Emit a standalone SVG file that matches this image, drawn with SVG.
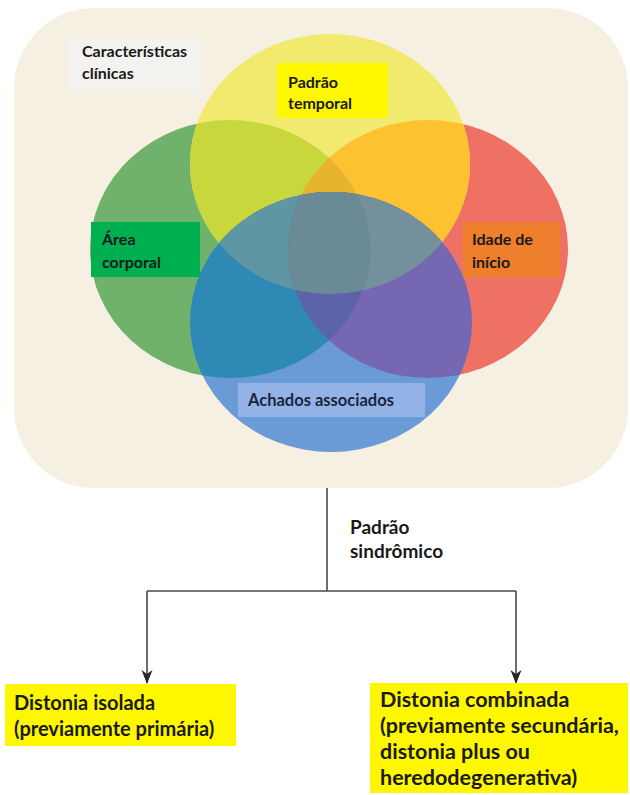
<svg xmlns="http://www.w3.org/2000/svg" width="630" height="795" viewBox="0 0 630 795">
<style>
.t{font-family:Lato,"Liberation Sans",sans-serif;font-weight:700;fill:#1a1a1a}
.s16{font-size:16px}
.s20{font-size:20px}
.s21{font-size:21.5px}
.ln{fill:none;stroke:#4a4a4a;stroke-width:1.6}
</style>
<defs>
<clipPath id="cY"><ellipse cx="330" cy="164" rx="140" ry="130"/></clipPath>
<clipPath id="cG"><ellipse cx="230" cy="249" rx="140" ry="129"/></clipPath>
<clipPath id="cR"><ellipse cx="428" cy="249" rx="140" ry="129"/></clipPath>
<clipPath id="cB"><ellipse cx="331" cy="322" rx="141" ry="130"/></clipPath>
<marker id="arr" viewBox="0 0 14 12" refX="13" refY="6" markerWidth="14" markerHeight="12" markerUnits="userSpaceOnUse" orient="auto">
<path d="M0,0.5 L14,6 L0,11.5 L4,6 z" fill="#262626"/>
</marker>
</defs>
<rect width="630" height="795" fill="#ffffff"/>
<g id="panel">
<rect x="14" y="8" width="614" height="480" rx="80" ry="80" fill="#f5f0e2"/>
</g>
<g id="clinicas">
<rect x="68" y="40" width="132" height="52" fill="#f3f2ee"/>
<text class="t s16" x="82" y="57">Características</text>
<text class="t s16" x="82" y="79">clínicas</text>
</g>
<g id="venn">
<ellipse cx="230" cy="249" rx="140" ry="129" fill="#70b16b"/>
<ellipse cx="428" cy="249" rx="140" ry="129" fill="#ef7163"/>
<ellipse cx="330" cy="164" rx="140" ry="130" fill="#f2ea6f"/>
<ellipse cx="331" cy="322" rx="141" ry="130" fill="#6b9bd6"/>
<g clip-path="url(#cY)"><ellipse cx="230" cy="249" rx="140" ry="129" fill="#c8d83c"/></g>
<g clip-path="url(#cY)"><ellipse cx="428" cy="249" rx="140" ry="129" fill="#fcc22f"/></g>
<g clip-path="url(#cB)"><ellipse cx="230" cy="249" rx="140" ry="129" fill="#2f89b5"/></g>
<g clip-path="url(#cB)"><ellipse cx="428" cy="249" rx="140" ry="129" fill="#7667b3"/></g>
<g clip-path="url(#cB)"><ellipse cx="330" cy="164" rx="140" ry="130" fill="#6d8e99"/></g>
<g clip-path="url(#cY)"><g clip-path="url(#cG)"><ellipse cx="428" cy="249" rx="140" ry="129" fill="#e6b52d"/></g></g>
<g clip-path="url(#cB)"><g clip-path="url(#cY)"><ellipse cx="230" cy="249" rx="140" ry="129" fill="#5e96a3"/></g></g>
<g clip-path="url(#cB)"><g clip-path="url(#cY)"><ellipse cx="428" cy="249" rx="140" ry="129" fill="#74909c"/></g></g>
<g clip-path="url(#cB)"><g clip-path="url(#cG)"><ellipse cx="428" cy="249" rx="140" ry="129" fill="#5c63a9"/></g></g>
<g clip-path="url(#cB)"><g clip-path="url(#cY)"><g clip-path="url(#cG)"><ellipse cx="428" cy="249" rx="140" ry="129" fill="#6a8b96"/></g></g></g>
</g>
<g id="temporal">
<rect x="277" y="63" width="111" height="55" fill="#fff700"/>
<text class="t s16" x="288" y="88">Padrão</text>
<text class="t s16" x="288" y="109">temporal</text>
</g>
<g id="area">
<rect x="91" y="222" width="109" height="55" fill="#00b050"/>
<text class="t s16" x="102" y="245">Área</text>
<text class="t s16" x="102" y="268">corporal</text>
</g>
<g id="idade">
<rect x="463" y="222" width="97" height="55" fill="#ee7f2d"/>
<text class="t s16" x="472" y="245">Idade de</text>
<text class="t s16" x="472" y="268">início</text>
</g>
<g id="achados">
<rect x="238" y="383" width="187" height="34" fill="#93b3e6"/>
<text class="t" style="font-size:16.5px;fill:#1c2540" x="248" y="406">Achados associados</text>
</g>
<g id="connectors">
<path class="ln" d="M327,488 V591"/>
<path class="ln" d="M147,591 H516"/>
<path class="ln" d="M147,591 V683" marker-end="url(#arr)"/>
<path class="ln" d="M516,591 V683" marker-end="url(#arr)"/>
</g>
<g id="sindromico">
<text class="t" style="font-size:19px" x="350" y="534">Padrão</text>
<text class="t" style="font-size:19px" x="350" y="558">sindrômico</text>
</g>
<g id="isolada">
<rect x="5" y="684" width="231" height="62" fill="#fff700"/>
<text class="t s20" x="14" y="710">Distonia isolada</text>
<text class="t s20" x="14" y="736">(previamente primária)</text>
</g>
<g id="combinada">
<rect x="370" y="683" width="258" height="110" fill="#fff700"/>
<text class="t s21" x="380" y="707">Distonia combinada</text>
<text class="t s21" x="380" y="733">(previamente secundária,</text>
<text class="t s21" x="380" y="759">distonia plus ou</text>
<text class="t s21" x="380" y="785">heredodegenerativa)</text>
</g>
</svg>
